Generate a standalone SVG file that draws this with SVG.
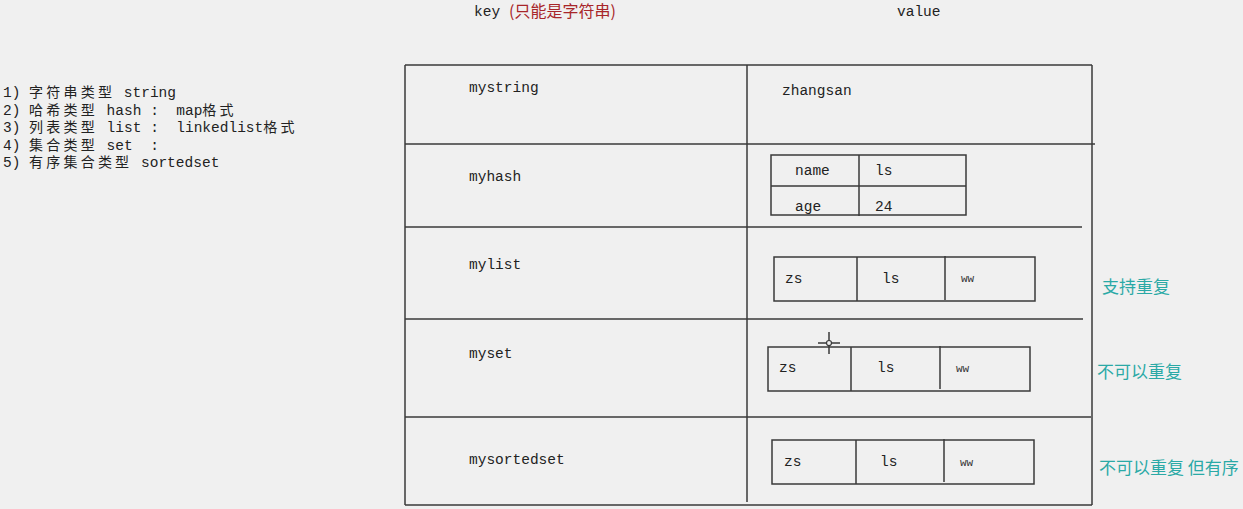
<svg xmlns="http://www.w3.org/2000/svg" width="1243" height="509" viewBox="0 0 1243 509">
<style>
.bg{fill:#f0f0f0}
.ln{stroke:#3a3a3a;stroke-width:1.5;fill:none}
.box{stroke:#3a3a3a;stroke-width:1.5;fill:#f0f0f0}
.t{font-family:"Liberation Mono","Noto Sans CJK SC",monospace;font-size:14.5px;fill:#222;white-space:pre}
.c{font-family:"Noto Sans CJK SC",sans-serif;font-size:14px;letter-spacing:3.2px}
.s{font-family:"Liberation Mono",monospace;font-size:14.5px;fill:#222}
.w{font-family:"Liberation Mono",monospace;font-size:11px;fill:#333}
.g{font-family:"Noto Sans CJK SC",sans-serif;font-size:17px;fill:#2aa9a6}
.r{font-family:"Noto Sans CJK SC",sans-serif;font-size:16px;fill:#a8262a}
</style>
<rect class="bg" x="0" y="0" width="1243" height="509"/>
<g id="header">
<text class="s" x="474" y="16">key</text>
<text class="r" x="509" y="17">(只能是字符串)</text>
<text class="s" x="897" y="16">value</text>
</g>
<g id="legend">
<text class="t" x="3" y="97">1) <tspan class="c">字符串类型</tspan> string</text>
<text class="t" x="3" y="114.5">2) <tspan class="c">哈希类型</tspan> hash :  map<tspan class="c">格式</tspan></text>
<text class="t" x="3" y="132">3) <tspan class="c">列表类型</tspan> list :  linkedlist<tspan class="c">格式</tspan></text>
<text class="t" x="3" y="149.5">4) <tspan class="c">集合类型</tspan> set  :</text>
<text class="t" x="3" y="167">5) <tspan class="c">有序集合类型</tspan> sortedset</text>
</g>
<g id="table">
<line class="ln" x1="405" y1="65" x2="1092" y2="65"/>
<line class="ln" x1="405" y1="65" x2="405" y2="505"/>
<line class="ln" x1="405" y1="505" x2="1092" y2="505"/>
<line class="ln" x1="1092" y1="65" x2="1092" y2="505"/>
<line class="ln" x1="747" y1="65" x2="747" y2="502"/>
<line class="ln" x1="405" y1="144" x2="1095" y2="144"/>
<line class="ln" x1="405" y1="227" x2="1082" y2="227"/>
<line class="ln" x1="405" y1="319" x2="1083" y2="319"/>
<line class="ln" x1="405" y1="417" x2="1091" y2="417"/>
</g>
<g id="row-string">
<text class="s" x="469" y="92">mystring</text>
<text class="s" x="782" y="95">zhangsan</text>
</g>
<g id="row-hash">
<text class="s" x="469" y="181">myhash</text>
<rect class="box" x="771" y="155" width="195" height="60"/>
<line class="ln" x1="771" y1="186" x2="966" y2="186"/>
<line class="ln" x1="859" y1="155" x2="859" y2="216"/>
<text class="s" x="795" y="175">name</text>
<text class="s" x="875" y="175">ls</text>
<text class="s" x="795" y="211">age</text>
<text class="s" x="875" y="211">24</text>
</g>
<g id="row-list">
<text class="s" x="469" y="269">mylist</text>
<rect class="box" x="774" y="257" width="261" height="44"/>
<line class="ln" x1="857" y1="257" x2="857" y2="301"/>
<line class="ln" x1="945" y1="256" x2="945" y2="300"/>
<text class="s" x="785" y="283">zs</text>
<text class="s" x="882" y="283">ls</text>
<text class="w" x="961" y="282">ww</text>
<text class="g" x="1102" y="293">支持重复</text>
</g>
<g id="row-set">
<text class="s" x="469" y="358">myset</text>
<rect class="box" x="768" y="347" width="262" height="44"/>
<line class="ln" x1="851" y1="347" x2="851" y2="391"/>
<line class="ln" x1="940" y1="346" x2="940" y2="389"/>
<text class="s" x="779" y="372">zs</text>
<text class="s" x="877" y="372">ls</text>
<text class="w" x="956" y="372">ww</text>
<text class="g" x="1097" y="378">不可以重复</text>
<g id="cursor">
<line class="ln" x1="818" y1="343" x2="840" y2="343" stroke-width="1.2"/>
<line class="ln" x1="829" y1="332" x2="829" y2="354" stroke-width="1.2"/>
<circle cx="829" cy="343" r="2.5" fill="#f0f0f0" stroke="#3a3a3a" stroke-width="1.2"/>
</g>
</g>
<g id="row-sortedset">
<text class="s" x="469" y="464">mysortedset</text>
<rect class="box" x="772" y="440" width="262" height="44"/>
<line class="ln" x1="856" y1="440" x2="856" y2="484"/>
<line class="ln" x1="944" y1="439" x2="944" y2="482"/>
<text class="s" x="784" y="466">zs</text>
<text class="s" x="880" y="466">ls</text>
<text class="w" x="960" y="466">ww</text>
<text class="g" x="1099" y="474">不可以重复 但有序</text>
</g>
</svg>
